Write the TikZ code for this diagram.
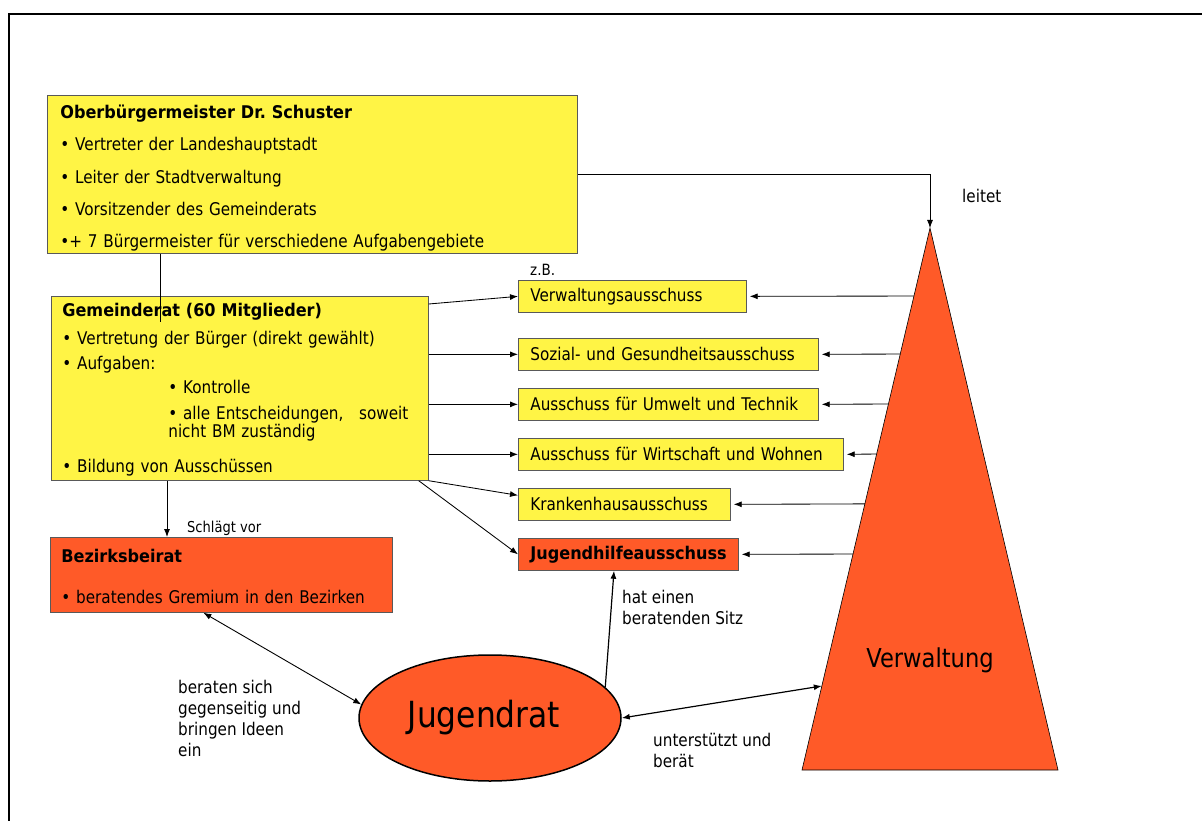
\documentclass[tikz,border=0pt]{standalone}
\usepackage{fontspec}
\setmainfont{DejaVu Sans}[FakeStretch=0.87]
\newfontface\fett{DejaVu Sans Bold}[FakeStretch=0.92]
\usetikzlibrary{arrows.meta,shapes.geometric,calc}
\definecolor{gelb}{HTML}{FFF445}
\definecolor{rot}{HTML}{FF5A28}
\newcommand\schrift[2]{\fontsize{#1}{#2}\selectfont}
\frenchspacing

\begin{document}
\begin{tikzpicture}[x=1pt,y=-1pt,
        kasten/.style={draw=black!65,line width=.7pt,anchor=north west,inner ysep=0pt,align=left},
        gelbkasten/.style={kasten,fill=gelb},
        rotkasten/.style={kasten,fill=rot},
        ausschuss/.style={gelbkasten,minimum height=32pt,inner xsep=12pt,font=\schrift{17.5}{21}},
        pfeil/.style={-{Latex[length=8pt,width=6pt]},line width=.85pt},
        doppelpfeil/.style={{Latex[length=8pt,width=6pt]}-{Latex[length=8pt,width=6pt]},line width=.9pt},
        notiz/.style={anchor=north west,inner sep=0pt,align=left,font=\schrift{17.5}{21}}]
        \useasboundingbox (0,0) rectangle (1202,821);
        \draw[line width=2pt] (9,821) -- (9,14) -- (1202,14);
        %
        \node[gelbkasten,minimum height=158pt,text width=504pt,inner xsep=13pt,font=\schrift{17.5}{32.3}] (ob) at (47,95)
            {\rule{0pt}{21pt}{\fett Oberbürgermeister Dr. Schuster}\\• Vertreter der Landeshauptstadt\\• Leiter der Stadtverwaltung\\• Vorsitzender des Gemeinderats\\•+ 7 Bürgermeister für verschiedene Aufgabengebiete};
        \node[gelbkasten,minimum height=184pt,text width=355pt,inner xsep=11pt,font=\schrift{17.5}{18}] (gr) at (51,296)
            {\rule{0pt}{16pt}{\fett Gemeinderat (60 Mitglieder)}\\[10pt]• Vertretung der Bürger (direkt gewählt)\\[7pt]• Aufgaben:\\[6pt]\hspace*{106pt}• Kontrolle\\[8pt]\hspace*{106pt}\makebox[240pt][l]{• alle Entscheidungen,\hfill soweit}\\\hspace*{106pt}nicht BM zuständig\\[17pt]• Bildung von Ausschüssen};
        \node[rotkasten,minimum height=75pt,text width=320pt,inner xsep=11pt,font=\schrift{17.5}{18}] (bb) at (50,537)
            {\rule{0pt}{16pt}{\fett Bezirksbeirat}\\[23pt]• beratendes Gremium in den Bezirken};
        %
        \node[ausschuss,text width=204pt] (vw) at (518,280) {Verwaltungsausschuss};
        \node[ausschuss,text width=276pt] (sg) at (518,338) {Sozial- und Gesundheitsausschuss};
        \node[ausschuss,text width=276pt] (ut) at (518,388) {Ausschuss für Umwelt und Technik};
        \node[ausschuss,text width=301pt] (ww) at (518,438) {Ausschuss für Wirtschaft und Wohnen};
        \node[ausschuss,text width=188pt] (kh) at (518,488) {Krankenhausausschuss};
        \node[ausschuss,fill=rot,text width=196pt] (jh) at (518,538) {{\fett Jugendhilfeausschuss}};
        %
        \node[ellipse,draw,line width=1.5pt,fill=rot,minimum width=262pt,minimum height=126pt,font=\schrift{36}{40}] (jr) at (490,718) {\hspace*{-12pt}Jugendrat};
        \coordinate (spitze) at (930,228);
        \coordinate (links) at (802,770);
        \coordinate (rechts) at (1058,770);
        \draw[fill=rot,line width=.6pt] (spitze) -- (links) -- (rechts) -- cycle;
        \node[font=\schrift{26}{30}] (verw) at (930,660) {Verwaltung};
        %
        \node[notiz,font=\schrift{15.5}{18},anchor=west] (zb) at (530,270) {z.B.};
        \node[notiz,font=\schrift{15}{18},anchor=west] (vor) at (187,528) {Schlägt vor};
        \node[notiz,anchor=west] (leitet) at (962,196) {leitet};
        \node[notiz] (beraten) at (178,680) {beraten sich\\gegenseitig und\\bringen Ideen\\ein};
        \node[notiz] (sitz) at (622,590) {hat einen\\beratenden Sitz};
        \node[notiz] (unterst) at (653,733) {unterstützt und\\berät};
        %
        \draw[pfeil] (ob.east) -| (spitze);
        \draw[line width=.85pt] ([xshift=113pt]ob.south west) -- ([xshift=109pt,yshift=-26pt]gr.north west);
        \draw[pfeil] ([xshift=116pt]gr.south west) -- ([xshift=117pt]bb.north west);
        \draw[pfeil] ([yshift=-8pt]gr.north east) -- (vw.west);
        \draw[pfeil] (gr.east |- sg.west) -- (sg.west);
        \draw[pfeil] (gr.east |- ut.west) -- (ut.west);
        \draw[pfeil] (gr.east |- ww.west) -- (ww.west);
        \draw[pfeil] (gr.south east) -- ([yshift=9pt]kh.west);
        \draw[pfeil] ([xshift=-10pt]gr.south east) -- (jh.west);
        %
        \draw[pfeil,shorten >=3pt] ($(spitze)!0.1255!(links)$) -- (vw.east);
        \draw[pfeil,shorten >=3pt] ($(spitze)!0.2325!(links)$) -- (sg.east);
        \draw[pfeil,shorten >=3pt] ($(spitze)!0.3247!(links)$) -- (ut.east);
        \draw[pfeil,shorten >=3pt] ($(spitze)!0.417!(links)$) -- (ww.east);
        \draw[pfeil,shorten >=3pt] ($(spitze)!0.509!(links)$) -- (kh.east);
        \draw[pfeil,shorten >=3pt] ($(spitze)!0.6015!(links)$) -- (jh.east);
        %
        \draw[doppelpfeil] ([xshift=-18pt]bb.south) -- (jr.174);
        \draw[pfeil,line width=1.2pt] (jr.15) -- ([xshift=96pt]jh.south west);
        \draw[doppelpfeil,line width=1.2pt] (jr.east) -- ($(spitze)!0.845!(links)$);
\end{tikzpicture}
\end{document}
